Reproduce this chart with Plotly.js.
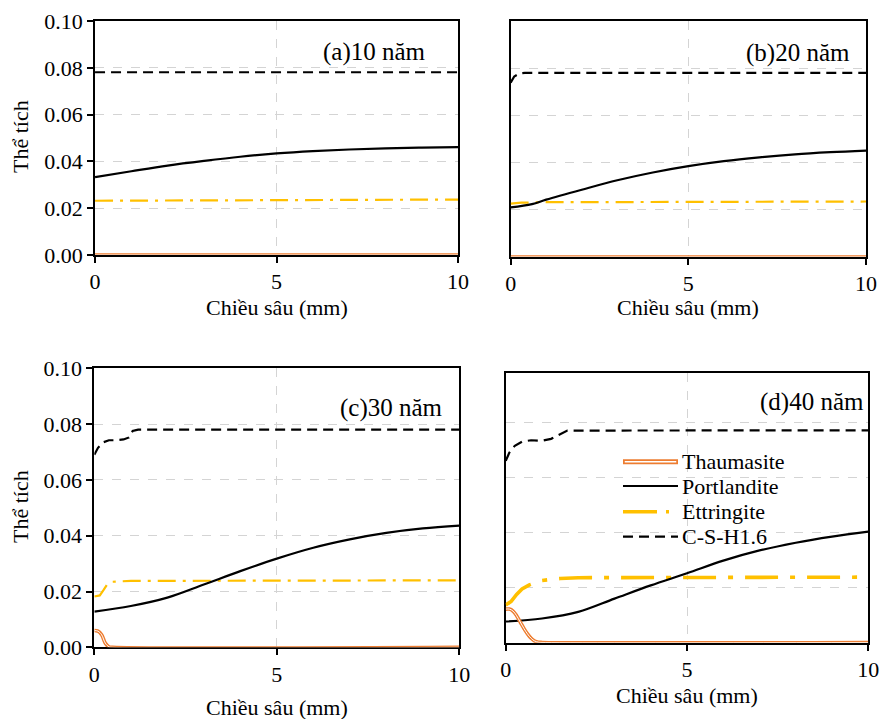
<!DOCTYPE html>
<html>
<head>
<meta charset="utf-8">
<script src="https://cdn.plot.ly/plotly-3.0.1.min.js"></script>
<style>html,body{margin:0;padding:0;background:#fff;}</style>
</head>
<body>
<div id="chart"></div>
<script>
// ---------- DATA ----------
const seriesNames = ["Thaumasite", "Portlandite", "Ettringite", "C-S-H1.6"];
const panelLabels = ["(a)10 năm", "(b)20 năm", "(c)30 năm", "(d)40 năm"];
const xTickVals = [0, 5, 10];
const xTitle = "Chiều sâu (mm)";
const yTitle = "Thể tích";

// (a) 10 years
const aThauX = [0, 10];
const aThauY = [0, 0];
const aPortX = [0, 1, 2, 3, 4, 5, 6, 7, 8, 9, 10];
const aPortY = [0.0333, 0.0358, 0.0382, 0.0402, 0.0420, 0.0434, 0.0444, 0.0451, 0.0456, 0.0459, 0.0461];
const aEttX = [0, 5, 10];
const aEttY = [0.0232, 0.0235, 0.0237];
const aCshX = [0, 10];
const aCshY = [0.0781, 0.0781];

// (b) 20 years
const bThauX = [0, 10];
const bThauY = [0, 0];
const bPortX = [0, 0.6, 1, 2, 3, 4, 5, 6, 7, 8, 9, 10];
const bPortY = [0.0210, 0.0224, 0.0243, 0.0285, 0.0325, 0.0358, 0.0385, 0.0406, 0.0422, 0.0435, 0.0444, 0.0451];
const bEttX = [0, 0.3, 1, 10];
const bEttY = [0.0226, 0.0230, 0.0232, 0.0235];
const bCshX = [0, 0.1, 0.25, 0.4, 10];
const bCshY = [0.0739, 0.0765, 0.0778, 0.0780, 0.0780];

// (c) 30 years
const cThauX = [0, 0.1, 0.2, 0.3, 0.4, 0.5, 10];
const cThauY = [0.0060, 0.0058, 0.0045, 0.0015, 0.0002, 0, 0];
const cPortX = [0, 1, 2, 3, 4, 5, 6, 7, 8, 9, 10];
const cPortY = [0.0128, 0.0148, 0.0178, 0.0225, 0.0273, 0.0318, 0.0357, 0.0387, 0.0410, 0.0426, 0.0436];
const cEttX = [0, 0.15, 0.25, 0.35, 0.5, 1, 10];
const cEttY = [0.0182, 0.0186, 0.0205, 0.0225, 0.0235, 0.0238, 0.0240];
const cCshX = [0, 0.1, 0.25, 0.4, 0.6, 0.8, 0.95, 1.05, 1.2, 10];
const cCshY = [0.0690, 0.0715, 0.0735, 0.0742, 0.0742, 0.0745, 0.0752, 0.0775, 0.0780, 0.0780];

// (d) 40 years
const dThauX = [0, 0.1, 0.2, 0.3, 0.4, 0.5, 0.6, 0.7, 0.8, 0.9, 1.0, 10];
const dThauY = [0.0122, 0.0122, 0.0115, 0.0098, 0.0075, 0.0052, 0.0032, 0.0016, 0.0006, 0.0002, 0.0001, 0.0001];
const dPortX = [0, 1, 2, 3, 4, 5, 6, 7, 8, 9, 10];
const dPortY = [0.0077, 0.0088, 0.0112, 0.0160, 0.0208, 0.0252, 0.0298, 0.0335, 0.0363, 0.0385, 0.0403];
const dEttX = [0, 0.15, 0.3, 0.45, 0.65, 1.0, 1.5, 2, 10];
const dEttY = [0.0137, 0.0150, 0.0175, 0.0195, 0.0210, 0.0226, 0.0233, 0.0236, 0.0238];
const dCshX = [0, 0.1, 0.25, 0.45, 0.7, 1.0, 1.25, 1.5, 1.7, 10];
const dCshY = [0.0660, 0.0690, 0.0715, 0.0730, 0.0735, 0.0733, 0.0740, 0.0758, 0.0770, 0.0771];

// ---------- STYLE ----------
const FONT = "Liberation Serif";
const FS = 22;
const ORANGE = "#ED7D31";
const GOLD = "#FFC000";
const panels = [
  {ax: "", thX: aThauX, thY: aThauY, pX: aPortX, pY: aPortY, eX: aEttX, eY: aEttY, cX: aCshX, cY: aCshY, ettDash: "18px,7px,3px,7px", ettW: 2.2},
  {ax: "2", thX: bThauX, thY: bThauY, pX: bPortX, pY: bPortY, eX: bEttX, eY: bEttY, cX: bCshX, cY: bCshY, ettDash: "18px,7px,3px,7px", ettW: 2.2},
  {ax: "3", thX: cThauX, thY: cThauY, pX: cPortX, pY: cPortY, eX: cEttX, eY: cEttY, cX: cCshX, cY: cCshY, ettDash: "18px,7px,3px,7px", ettW: 2.2},
  {ax: "4", thX: dThauX, thY: dThauY, pX: dPortX, pY: dPortY, eX: dEttX, eY: dEttY, cX: dCshX, cY: dCshY, ettDash: "33px,12px,5px,12px", ettW: 3.6}
];

const traces = [];
panels.forEach(p => {
  const xa = "x" + p.ax, ya = "y" + p.ax;
  traces.push({x: p.cX, y: p.cY, xaxis: xa, yaxis: ya, mode: "lines", name: seriesNames[3], showlegend: false,
    line: {color: "#000", width: 2.2, dash: "10px,6px"}});
  traces.push({x: p.eX, y: p.eY, xaxis: xa, yaxis: ya, mode: "lines", name: seriesNames[2], showlegend: false,
    line: {color: GOLD, width: p.ettW, dash: p.ettDash}});
  traces.push({x: p.pX, y: p.pY, xaxis: xa, yaxis: ya, mode: "lines", name: seriesNames[1], showlegend: false,
    line: {color: "#000", width: 2.2, shape: "spline"}});
  traces.push({x: p.thX, y: p.thY, xaxis: xa, yaxis: ya, mode: "lines", name: seriesNames[0], showlegend: false,
    cliponaxis: false, line: {color: ORANGE, width: 3.6, shape: "spline"}});
  traces.push({x: p.thX, y: p.thY, xaxis: xa, yaxis: ya, mode: "lines", name: seriesNames[0], showlegend: false,
    hoverinfo: "skip", line: {color: "#fff", width: 1.0, shape: "spline"}});
});

const domains = [
  {x: [0.1080, 0.5205], y: [0.6453, 0.9708], yr: [0, 0.1], lab: true},
  {x: [0.5803, 0.9841], y: [0.6426, 0.9708], yr: [0, 0.1], lab: false},
  {x: [0.1072, 0.5219], y: [0.0997, 0.4878], yr: [0, 0.1], lab: true},
  {x: [0.5747, 0.9867], y: [0.1061, 0.4816], yr: [0, 0.098], lab: false}
];

const layout = {
  width: 880, height: 719,
  margin: {l: 0, r: 0, t: 0, b: 0},
  paper_bgcolor: "#fff", plot_bgcolor: "#fff",
  font: {family: FONT, size: FS, color: "#000"},
  showlegend: false,
  annotations: [], shapes: []
};

domains.forEach((d, i) => {
  const s = i === 0 ? "" : String(i + 1);
  layout["xaxis" + s] = {
    domain: d.x, anchor: "y" + s, range: [0, 10], tickvals: xTickVals, ticktext: xTickVals.map(String),
    ticks: "outside", ticklen: 6, tickwidth: 2, tickcolor: "#000",
    showline: true, linecolor: "#000", linewidth: 2, mirror: true,
    showgrid: true, gridcolor: "#d4d4d4", griddash: "dash", gridwidth: 1, zeroline: false,
    layer: "below traces",
    tickfont: {family: FONT, size: FS, color: "#000"}
  };
  layout["yaxis" + s] = {
    domain: d.y, anchor: "x" + s, range: d.yr, dtick: 0.02, tick0: 0, tickformat: ".2f",
    ticks: d.lab ? "outside" : "", ticklen: 6, tickwidth: 2, tickcolor: "#000",
    showticklabels: d.lab,
    showline: true, linecolor: "#000", linewidth: 2, mirror: true,
    showgrid: true, gridcolor: "#d4d4d4", griddash: "dash", gridwidth: 1, zeroline: false,
    layer: "below traces",
    tickfont: {family: FONT, size: FS, color: "#000"}
  };
});

// axis titles (placed as in the reference)
const xTitlePos = [[276.5, 307], [688, 307], [277, 707], [687, 695]];
xTitlePos.forEach(p => {
  layout.annotations.push({text: xTitle, xref: "paper", yref: "paper", x: p[0] / 880, y: 1 - p[1] / 719,
    xanchor: "center", yanchor: "middle", showarrow: false, font: {family: FONT, size: FS, color: "#000"}});
});
const yTitlePos = [[20, 137], [20, 507]];
yTitlePos.forEach(p => {
  layout.annotations.push({text: yTitle, xref: "paper", yref: "paper", x: p[0] / 880, y: 1 - p[1] / 719, textangle: -90,
    xanchor: "center", yanchor: "middle", showarrow: false, font: {family: FONT, size: FS, color: "#000"}});
});

// panel labels
const labelPos = [
  {x: 428 / 880, y: 1 - 52 / 719, anchor: "right"},
  {x: 852 / 880, y: 1 - 53 / 719, anchor: "right"},
  {x: 445 / 880, y: 1 - 408 / 719, anchor: "right"},
  {x: 758 / 880, y: 1 - 402 / 719, anchor: "left"}
];
panelLabels.forEach((t, i) => {
  layout.annotations.push({text: t, xref: "paper", yref: "paper", x: labelPos[i].x, y: labelPos[i].y,
    xanchor: labelPos[i].anchor, yanchor: "middle", showarrow: false, font: {family: FONT, size: 25, color: "#000"}});
});

// manual legend inside panel (d)
const lgX0 = 623 / 880, lgX1 = 678 / 880, lgTx = 680 / 880;
const lgY = [461.7, 486, 511.7, 536.7].map(v => 1 - v / 719);
layout.shapes.push({type: "line", xref: "paper", yref: "paper", x0: lgX0, x1: lgX1, y0: lgY[0], y1: lgY[0], line: {color: ORANGE, width: 5}});
layout.shapes.push({type: "line", xref: "paper", yref: "paper", x0: lgX0 + 0.002, x1: lgX1 - 0.002, y0: lgY[0], y1: lgY[0], line: {color: "#fff", width: 1.6}});
layout.shapes.push({type: "line", xref: "paper", yref: "paper", x0: lgX0, x1: lgX1, y0: lgY[1], y1: lgY[1], line: {color: "#000", width: 2.2}});
layout.shapes.push({type: "line", xref: "paper", yref: "paper", x0: lgX0, x1: lgX1, y0: lgY[2], y1: lgY[2], line: {color: GOLD, width: 3.5, dash: "34px,9px,3px,9px"}});
layout.shapes.push({type: "line", xref: "paper", yref: "paper", x0: lgX0, x1: lgX1, y0: lgY[3], y1: lgY[3], line: {color: "#000", width: 2.2, dash: "10px,6px"}});
seriesNames.forEach((n, i) => {
  layout.annotations.push({text: n, xref: "paper", yref: "paper", x: lgTx, y: lgY[i], xanchor: "left", yanchor: "middle",
    showarrow: false, font: {family: FONT, size: FS, color: "#000"}});
});

Plotly.newPlot("chart", traces, layout, {displayModeBar: false});
</script>
</body>
</html>
